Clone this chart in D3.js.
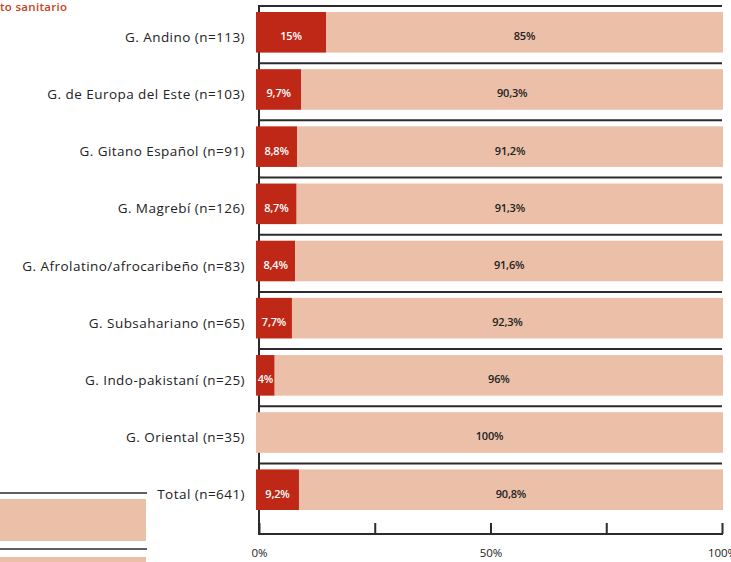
<!DOCTYPE html>
<html>
<head>
<meta charset="utf-8">
<script src="https://cdn.jsdelivr.net/npm/d3@7"></script>
<style>
  html, body { margin: 0; padding: 0; background: #fff; }
  svg { display: block; }
  text { font-family: "Open Sans", Lato, sans-serif; }
</style>
</head>
<body>
<svg id="chart" width="731" height="562"></svg>
<script>
const categories = [
  "G. Andino (n=113)",
  "G. de Europa del Este (n=103)",
  "G. Gitano Español (n=91)",
  "G. Magrebí (n=126)",
  "G. Afrolatino/afrocaribeño (n=83)",
  "G. Subsahariano (n=65)",
  "G. Indo-pakistaní (n=25)",
  "G. Oriental (n=35)",
  "Total (n=641)"
];
const siValues = [15, 9.7, 8.8, 8.7, 8.4, 7.7, 4, 0, 9.2];
const noValues = [85, 90.3, 91.2, 91.3, 91.6, 92.3, 96, 100, 90.8];
const tickValues = [0, 25, 50, 75, 100];
const tickLabels = ["0%", "", "50%", "", "100%"];
const titleText = "to sanitario";

const svg = d3.select("#chart");
const RED = "#bf2817", SALMON = "#ecbfa8", LINE = "#2b2b2b";

const x = d3.scaleLinear().domain([0, 100]).range([256, 723]);
const xAxisScale = d3.scaleLinear().domain([0, 100]).range([259, 722]);
const y = d3.scaleBand().domain(categories).range([12, 510]).paddingInner(0.29).paddingOuter(0);

const fmt = v => String(v).replace(".", ",") + "%";

const data = categories.map((c, i) => ({cat: c, si: siValues[i], no: noValues[i]}));
const series = d3.stack().keys(["si", "no"])(data);

// title fragment
svg.append("text").attr("x", 0).attr("y", 11)
  .attr("fill", "#c9401c").attr("font-size", 11.5).attr("font-weight", 600)
  .attr("letter-spacing", 0.3)
  .text(titleText);

// left fragments (partial legend/table)
svg.append("line").attr("x1", 0).attr("x2", 147).attr("y1", 493).attr("y2", 493)
  .attr("stroke", LINE).attr("stroke-width", 1.5);
svg.append("rect").attr("x", 0).attr("y", 499).attr("width", 146).attr("height", 42).attr("fill", SALMON);
svg.append("line").attr("x1", 0).attr("x2", 147).attr("y1", 549).attr("y2", 549)
  .attr("stroke", LINE).attr("stroke-width", 1.5);
svg.append("rect").attr("x", 0).attr("y", 557).attr("width", 146).attr("height", 10).attr("fill", SALMON);

// gridlines above each row
svg.append("g").selectAll("line").data(categories).join("line")
  .attr("x1", xAxisScale(0)).attr("x2", xAxisScale(100))
  .attr("y1", d => y(d) - 6).attr("y2", d => y(d) - 6)
  .attr("stroke", LINE).attr("stroke-width", 2);

// vertical axis line
svg.append("line").attr("x1", xAxisScale(0)).attr("x2", xAxisScale(0))
  .attr("y1", y(categories[0]) - 7).attr("y2", 534)
  .attr("stroke", LINE).attr("stroke-width", 2);

// bars
const colors = {si: RED, no: SALMON};
svg.append("g").selectAll("g").data(series).join("g")
  .attr("fill", s => colors[s.key])
  .selectAll("rect").data(s => s.filter(d => d[1] - d[0] > 0)).join("rect")
  .attr("x", d => x(d[0])).attr("width", d => x(d[1]) - x(d[0]))
  .attr("y", d => y(d.data.cat)).attr("height", y.bandwidth());

// value labels
svg.append("g").selectAll("g").data(series).join("g")
  .selectAll("text").data(s => s.filter(d => d[1] - d[0] > 0).map(d => ({d, key: s.key}))).join("text")
  .attr("x", o => (x(o.d[0]) + x(o.d[1])) / 2)
  .attr("y", o => y(o.d.data.cat) + y.bandwidth() / 2 + 5)
  .attr("text-anchor", "middle").attr("dominant-baseline", "middle")
  .attr("font-size", 11).attr("font-weight", 600).attr("letter-spacing", -0.2)
  .attr("fill", o => o.key === "si" ? "#ffffff" : "#222")
  .text(o => fmt(o.d.data[o.key]));

// category labels
svg.append("g").selectAll("text").data(categories).join("text")
  .attr("x", 245).attr("y", d => y(d) + y.bandwidth() / 2 + 6)
  .attr("text-anchor", "end").attr("dominant-baseline", "middle")
  .attr("font-size", 13.5).attr("fill", "#222").attr("letter-spacing", 0.45)
  .text(d => d);

// bottom axis
const axis = d3.axisBottom(xAxisScale).tickValues(tickValues)
  .tickSize(-11).tickPadding(15)
  .tickFormat((d, i) => tickLabels[i]);
const gAx = svg.append("g").attr("transform", "translate(0,534)").call(axis);
gAx.select(".domain").remove();
gAx.selectAll(".tick line").attr("stroke", LINE).attr("stroke-width", 2);
gAx.selectAll(".tick text").attr("font-size", 11.5).attr("fill", "#222")
  .attr("font-family", "'Open Sans', Lato, sans-serif");
svg.append("line").attr("x1", xAxisScale(0) - 1).attr("x2", xAxisScale(100) + 1)
  .attr("y1", 534).attr("y2", 534).attr("stroke", LINE).attr("stroke-width", 2);
</script>
</body>
</html>
